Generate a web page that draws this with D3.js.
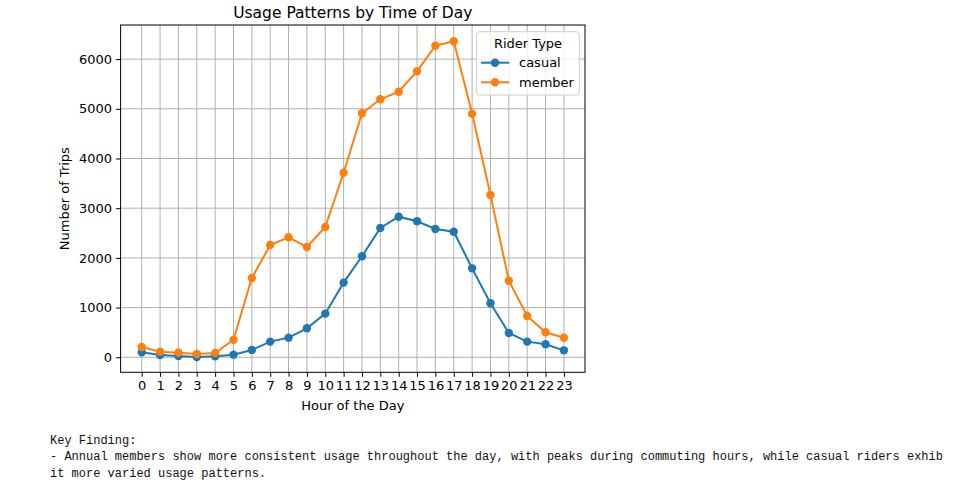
<!DOCTYPE html>
<html>
<head>
<meta charset="utf-8">
<script src="https://cdn.jsdelivr.net/npm/d3@7"></script>
<style>
  body { margin: 0; background: #fff; }
  svg text { font-family: "DejaVu Sans", sans-serif; }
</style>
</head>
<body>
<svg id="chart" width="956" height="485"></svg>
<script>
// hours of the day
var hours = d3.range(0, 24);

// trips per hour
var casual = [100, 46, 26, 6, 20, 53, 147, 315, 395, 583, 878, 1502,
              2032, 2602, 2829, 2736, 2581, 2527, 1790, 1086, 489, 315, 261, 140];
var member = [207, 113, 93, 66, 87, 354, 1596, 2260, 2414, 2219, 2622, 3714,
              4909, 5191, 5344, 5755, 6270, 6358, 4902, 3266, 1541, 831, 503, 394];

var yTicks = [0, 1000, 2000, 3000, 4000, 5000, 6000];
var seriesNames = ['casual', 'member'];
var colors = ['#1f77b4', '#ff7f0e'];

var noteLines = [
    'Key Finding:',
    '- Annual members show more consistent usage throughout the day, with peaks during commuting hours, while casual riders exhib',
    'it more varied usage patterns.'
];

var svg = d3.select('#chart');

var pLeft = 120.6, pRight = 585, pTop = 25, pBottom = 372.3;

var x = d3.scaleLinear().domain([-1.15, 24.15]).range([pLeft, pRight]);
var y = d3.scaleLinear().domain([-302, 6686]).range([pBottom, pTop]);

// grid
var grid = svg.append('g');
grid.selectAll('.gx').data(hours).enter().append('line')
    .attr('x1', d => x(d)).attr('x2', d => x(d))
    .attr('y1', pTop).attr('y2', pBottom)
    .attr('stroke', '#b0b0b0').attr('stroke-width', 1);
grid.selectAll('.gy').data(yTicks).enter().append('line')
    .attr('x1', pLeft).attr('x2', pRight)
    .attr('y1', d => y(d)).attr('y2', d => y(d))
    .attr('stroke', '#b0b0b0').attr('stroke-width', 1);

// axes
var xAxis = svg.append('g')
    .attr('transform', 'translate(0,' + pBottom + ')')
    .call(d3.axisBottom(x).tickValues(hours).tickSize(4.5).tickPadding(4).tickFormat(d3.format('d')));
var yAxis = svg.append('g')
    .attr('transform', 'translate(' + pLeft + ',0)')
    .call(d3.axisLeft(y).tickValues(yTicks).tickSize(4.5).tickPadding(4).tickFormat(d3.format('d')));

[xAxis, yAxis].forEach(function(a) {
    a.select('.domain').remove();
    a.selectAll('text').attr('font-size', 13).attr('fill', '#000')
        .style('font-family', '"DejaVu Sans", sans-serif');
    a.selectAll('line').attr('stroke', '#000');
});

// series
var line = d3.line().x((d, i) => x(hours[i])).y(d => y(d));
[casual, member].forEach(function(vals, k) {
    var g = svg.append('g');
    g.append('path').datum(vals)
        .attr('d', line)
        .attr('fill', 'none')
        .attr('stroke', colors[k])
        .attr('stroke-width', 2);
    g.selectAll('circle').data(vals).enter().append('circle')
        .attr('cx', (d, i) => x(hours[i]))
        .attr('cy', d => y(d))
        .attr('r', 4.2)
        .attr('fill', colors[k]);
});

// frame
svg.append('rect')
    .attr('x', pLeft).attr('y', pTop)
    .attr('width', pRight - pLeft).attr('height', pBottom - pTop)
    .attr('fill', 'none').attr('stroke', '#000').attr('stroke-width', 1);

// title and labels
svg.append('text')
    .attr('x', (pLeft + pRight) / 2).attr('y', 18)
    .attr('text-anchor', 'middle').attr('font-size', 15.5)
    .text('Usage Patterns by Time of Day');
svg.append('text')
    .attr('x', (pLeft + pRight) / 2).attr('y', 410)
    .attr('text-anchor', 'middle').attr('font-size', 13)
    .text('Hour of the Day');
svg.append('text')
    .attr('transform', 'translate(69,' + ((pTop + pBottom) / 2) + ') rotate(-90)')
    .attr('text-anchor', 'middle').attr('font-size', 13)
    .text('Number of Trips');

// legend
var lg = svg.append('g');
lg.append('rect')
    .attr('x', 476.7).attr('y', 31.7).attr('width', 102.6).attr('height', 63.3)
    .attr('rx', 3).attr('fill', '#fff').attr('fill-opacity', 0.8)
    .attr('stroke', '#cccccc').attr('stroke-width', 1);
lg.append('text')
    .attr('x', 528).attr('y', 48).attr('text-anchor', 'middle').attr('font-size', 13)
    .text('Rider Type');
seriesNames.forEach(function(name, k) {
    var ly = 62.7 + k * 19.6;
    lg.append('line')
        .attr('x1', 481).attr('x2', 509.3).attr('y1', ly).attr('y2', ly)
        .attr('stroke', colors[k]).attr('stroke-width', 2);
    lg.append('circle').attr('cx', 495).attr('cy', ly).attr('r', 4.2).attr('fill', colors[k]);
    lg.append('text')
        .attr('x', 519).attr('y', ly + 4.6).attr('font-size', 13)
        .text(name);
});

// note below the chart
svg.append('g').selectAll('text').data(noteLines).enter().append('text')
    .attr('x', 50)
    .attr('y', (d, i) => 444 + i * 16.3)
    .attr('font-size', 12)
    .style('font-family', '"Liberation Mono", "DejaVu Sans Mono", monospace')
    .attr('fill', '#111')
    .text(d => d);
</script>
</body>
</html>
